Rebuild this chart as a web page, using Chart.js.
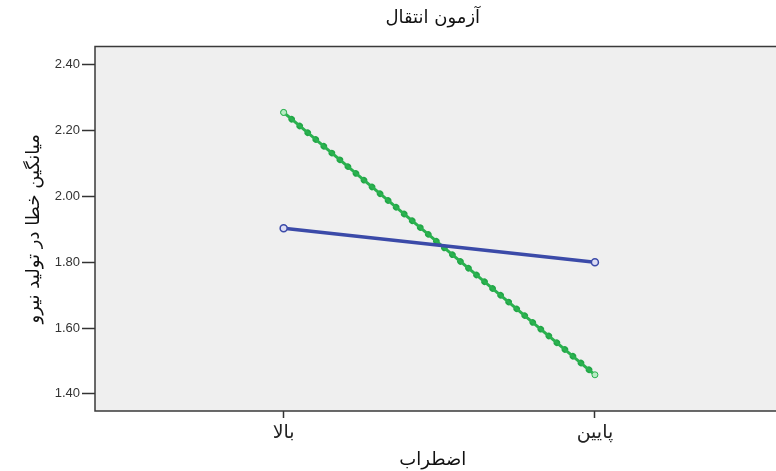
<!DOCTYPE html>
<html>
<head>
<meta charset="utf-8">
<script src="https://cdn.jsdelivr.net/npm/chart.js@4.4.1/dist/chart.umd.min.js"></script>
<style>
  html, body { margin: 0; padding: 0; background: #ffffff; }
  #wrap { width: 776px; height: 471px; }
</style>
</head>
<body>
<div id="wrap"><canvas id="c" width="776" height="471"></canvas></div>
<script>
const chartTitle = 'آزمون انتقال';
const xTitle = 'اضطراب';
const yTitle = 'میانگین خطا در تولید نیرو';
const categories = ['بالا', 'پایین'];
const seriesBlue = [1.903, 1.800];
const seriesGreen = [2.255, 1.458];
const yTicks = [1.40, 1.60, 1.80, 2.00, 2.20, 2.40];

const toPoints = arr => arr.map((v, i) => ({ x: i, y: v }));
const arabicFont = "'DejaVu Sans', 'Noto Sans', sans-serif";
const latinFont = "'Liberation Sans', Arial, sans-serif";

const plotFrame = {
  id: 'plotFrame',
  beforeDatasetsDraw(chart) {
    const { ctx, chartArea: a } = chart;
    const right = chart.width;
    ctx.save();
    ctx.fillStyle = '#efefef';
    ctx.fillRect(a.left, a.top, right - a.left, a.bottom - a.top);
    ctx.strokeStyle = '#3a3a3a';
    ctx.lineWidth = 1.5;
    ctx.beginPath();
    ctx.moveTo(right, a.top);
    ctx.lineTo(a.left, a.top);
    ctx.lineTo(a.left, a.bottom);
    ctx.lineTo(right, a.bottom);
    ctx.stroke();
    ctx.restore();
  }
};

new Chart(document.getElementById('c'), {
  type: 'line',
  data: {
    datasets: [
      {
        label: 'blue',
        data: toPoints(seriesBlue),
        borderColor: '#3b4aa8',
        borderWidth: 3.5,
        pointRadius: 3.5,
        pointBackgroundColor: '#dcdcf4',
        pointBorderColor: '#3b4aa8',
        pointBorderWidth: 1.5,
        tension: 0
      },
      {
        label: 'green-base',
        data: toPoints(seriesGreen),
        borderColor: '#2ab14f',
        borderWidth: 3,
        pointRadius: 3,
        pointBackgroundColor: '#b8ecc4',
        pointBorderColor: '#2ab14f',
        pointBorderWidth: 1,
        tension: 0
      },
      {
        label: 'green-dots',
        data: toPoints(seriesGreen),
        borderColor: '#22a647',
        borderWidth: 6.5,
        borderDash: [0.01, 10.5],
        borderCapStyle: 'round',
        pointRadius: 0,
        tension: 0
      }
    ]
  },
  options: {
    responsive: false,
    animation: false,
    devicePixelRatio: 1,
    layout: { padding: { left: 24, right: 0, top: 0, bottom: 0 } },
    plugins: {
      legend: { display: false },
      tooltip: { enabled: false },
      title: {
        display: true,
        text: chartTitle,
        fullSize: false,
        color: '#111',
        font: { family: arabicFont, size: 18, weight: 'normal' },
        padding: { top: 8, bottom: 17 }
      }
    },
    scales: {
      x: {
        type: 'linear',
        min: -0.606,
        max: 1.564,
        grid: { display: true, drawOnChartArea: false, drawTicks: true, tickLength: 7, tickColor: '#333', tickWidth: 1.5 },
        border: { display: false },
        afterBuildTicks(scale) { scale.ticks = categories.map((_, i) => ({ value: i })); },
        afterFit(scale) { scale.height = 60; },
        ticks: {
          color: '#222',
          padding: 4,
          maxRotation: 0,
          font: { family: arabicFont, size: 19 },
          callback: v => categories[v]
        },
        title: {
          display: true,
          text: xTitle,
          color: '#111',
          font: { family: arabicFont, size: 18 },
          padding: { top: 0, bottom: 0 }
        }
      },
      y: {
        type: 'linear',
        min: 1.348,
        max: 2.455,
        grid: { display: true, drawOnChartArea: false, drawTicks: true, tickLength: 13, tickColor: '#333', tickWidth: 1.5 },
        border: { display: false },
        afterBuildTicks(scale) { scale.ticks = yTicks.map(v => ({ value: v })); },
        afterFit(scale) { scale.width = 71; },
        ticks: {
          color: '#333',
          padding: 2,
          font: { family: latinFont, size: 13 },
          callback: v => Number(v).toFixed(2)
        },
        title: {
          display: true,
          text: yTitle,
          color: '#111',
          font: { family: arabicFont, size: 18, weight: 'normal' },
          padding: { top: 0, bottom: 0 }
        }
      }
    }
  },
  plugins: [plotFrame]
});
</script>
</body>
</html>
